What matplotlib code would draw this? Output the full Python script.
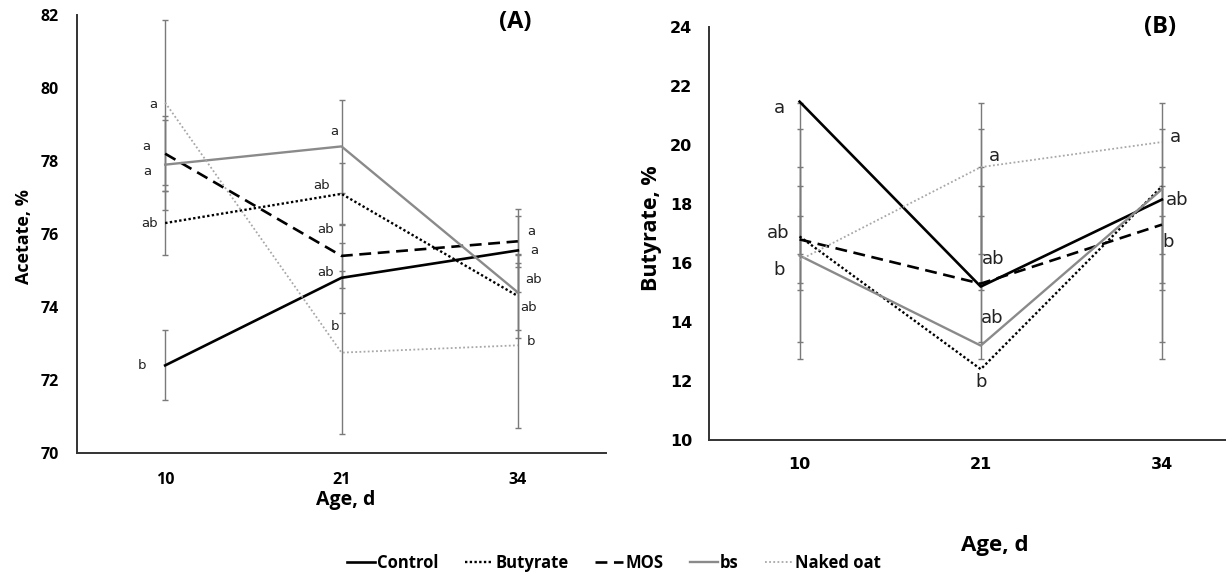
import numpy as np
import matplotlib.pyplot as plt
from matplotlib.lines import Line2D

MAIN = ['Open Sans', 'DejaVu Sans']
NARROW = ['Liberation Sans Narrow', 'DejaVu Sans']
plt.rcParams['font.family'] = MAIN

W, H = 1226, 578

days = ['10', '21', '34']
series = ['Control', 'Butyrate', 'MOS', 'bs', 'Naked oat']

# (A) acetate, %
acetate_control = [72.4, 74.8, 75.55]
acetate_butyrate = [76.3, 77.1, 74.3]
acetate_mos = [78.2, 75.4, 75.8]
acetate_bs = [77.9, 78.4, 74.4]
acetate_oat = [79.6, 72.75, 72.95]

acetate_err_control = [0.96, 0.96, 1.14]
acetate_err_butyrate = [0.87, 0.85, 1.15]
acetate_err_mos = [1.02, 0.87, 0.70]
acetate_err_bs = [1.23, 1.27, 1.03]
acetate_err_oat = [2.25, 2.24, 2.26]

acetate_let_control = ['b', 'ab', 'a']
acetate_let_butyrate = ['ab', 'ab', 'ab']
acetate_let_mos = ['a', 'ab', 'a']
acetate_let_bs = ['a', 'a', 'ab']
acetate_let_oat = ['a', 'b', 'b']

# (B) butyrate, %
butyrate_control = [21.47, 15.2, 18.15]
butyrate_butyrate = [16.9, 12.4, 18.6]
butyrate_mos = [16.8, 15.3, 17.3]
butyrate_bs = [16.25, 13.2, 18.5]
butyrate_oat = [16.1, 19.25, 20.1]

# error bars in (B) are the same at every age
butyrate_err_mid = [17.08, 16.93, 17.16, 16.97, 16.94]
butyrate_err_half = [4.34, 3.60, 2.08, 1.64, 0.65]

butyrate_let_control = ['a', 'ab', 'ab']
butyrate_let_butyrate = ['', 'b', '']
butyrate_let_mos = ['ab', '', 'b']
butyrate_let_bs = ['b', 'ab', '']
butyrate_let_oat = ['', 'a', 'a']

styles = {
    'Control': dict(color='black', lw=1.9, ls='-'),
    'Butyrate': dict(color='black', lw=1.7, ls=(0, (1, 1))),
    'MOS': dict(color='black', lw=1.9, ls=(0, (4.5, 2.5))),
    'bs': dict(color='#8a8a8a', lw=1.7, ls='-'),
    'Naked oat': dict(color='#a8a8a8', lw=1.3, ls=(0, (1, 1.3))),
}

# letter offsets in pixels (dx, dy up) per series, per age
off_a = {
    'Control': [(-23, 0), (-16, 5), (16, 0)],
    'Butyrate': [(-16, 0), (-20, 8), (11, -11)],
    'MOS': [(-19, 7), (-16, 26), (13, 10)],
    'bs': [(-18, -7), (-7, 15), (16, 13)],
    'Naked oat': [(-12, -2), (-7, 26), (13, 4)],
}
off_b = {
    'Control': [(-20, -6), (12, 28), (15, 0)],
    'Butyrate': [(0, 0), (0, -13), (0, 0)],
    'MOS': [(-21, 6), (0, 0), (6, -17)],
    'bs': [(-20, -14), (11, 28), (0, 0)],
    'Naked oat': [(0, 0), (14, 11), (13, 5)],
}

fig = plt.figure(figsize=(W / 100, H / 100), dpi=100)
axA = fig.add_axes([77 / W, 1 - 453 / H, (606 - 77) / W, (453 - 15) / H])
axB = fig.add_axes([709 / W, 1 - 440 / H, (1226 - 709) / W, (440 - 27) / H])

x = np.arange(len(days))
err_col = '#7a7a7a'


def style_axis(ax, yticks, tick_font, tick_size, ypad, xpad):
    for s in ['top', 'right']:
        ax.spines[s].set_visible(False)
    for s in ['left', 'bottom']:
        ax.spines[s].set_color('#333333')
        ax.spines[s].set_linewidth(1.4)
    ax.set_yticks(yticks)
    ax.set_xticks(x, days)
    ax.tick_params(axis='y', length=0, pad=ypad)
    ax.tick_params(axis='x', length=0, pad=xpad)
    for lab in ax.get_xticklabels() + ax.get_yticklabels():
        lab.set_family(tick_font)
        lab.set_fontweight('bold')
        lab.set_fontsize(tick_size)


# panel A
vals_a = [acetate_control, acetate_butyrate, acetate_mos, acetate_bs, acetate_oat]
errs_a = [acetate_err_control, acetate_err_butyrate, acetate_err_mos, acetate_err_bs, acetate_err_oat]
lets_a = [acetate_let_control, acetate_let_butyrate, acetate_let_mos, acetate_let_bs, acetate_let_oat]
for name, v, e in zip(series, vals_a, errs_a):
    axA.errorbar(x, v, yerr=e, fmt='none', ecolor=err_col, elinewidth=1.0,
                 capsize=2.5, capthick=1.0, zorder=1)
for name, v in zip(series, vals_a):
    axA.plot(x, v, zorder=2, **styles[name])
for name, v, lets in zip(series, vals_a, lets_a):
    for i, t in enumerate(lets):
        if t:
            axA.annotate(t, (x[i], v[i]), xytext=off_a[name][i], textcoords='offset pixels',
                         ha='center', va='center', fontsize=9.5, color='#222222',
                         family=NARROW)
axA.set_xlim(-0.5, 2.5)
axA.set_ylim(70, 82)
style_axis(axA, np.arange(70, 83, 2), MAIN, 11.5, 13, 14)

# panel B
vals_b = [butyrate_control, butyrate_butyrate, butyrate_mos, butyrate_bs, butyrate_oat]
lets_b = [butyrate_let_control, butyrate_let_butyrate, butyrate_let_mos, butyrate_let_bs, butyrate_let_oat]
for mid, half in zip(butyrate_err_mid, butyrate_err_half):
    axB.errorbar(x, [mid] * len(x), yerr=half, fmt='none', ecolor=err_col, elinewidth=1.0,
                 capsize=2.5, capthick=1.0, zorder=1)
for name, v in zip(series, vals_b):
    axB.plot(x, v, zorder=2, **styles[name])
for name, v, lets in zip(series, vals_b, lets_b):
    for i, t in enumerate(lets):
        if t:
            axB.annotate(t, (x[i], v[i]), xytext=off_b[name][i], textcoords='offset pixels',
                         ha='center', va='center', fontsize=13, color='#222222',
                         family=NARROW)
axB.set_xlim(-0.5, 2 + (1226 - 1162) / 181)
axB.set_ylim(10, 24)
style_axis(axB, np.arange(10, 25, 2), NARROW, 11.5, 12, 12)


def px(xp, yp):
    return xp / W, 1 - yp / H


fig.text(*px(515, 22), '(A)', ha='center', va='center', fontsize=17, fontweight='bold')
fig.text(*px(1160, 27), '(B)', ha='center', va='center', fontsize=17, fontweight='bold')
fig.text(*px(24, 237), 'Acetate, %', rotation=90, ha='center', va='center',
         fontsize=13, fontweight='bold')
fig.text(*px(652, 228), 'Butyrate, %', rotation=90, ha='center', va='center',
         fontsize=15.5, fontweight='bold')
fig.text(*px(346, 500), 'Age, d', ha='center', va='center', fontsize=14, fontweight='bold')
fig.text(*px(995, 545), 'Age, d', ha='center', va='center', fontsize=16, fontweight='bold')

handles = [Line2D([], [], **styles[n]) for n in series]
leg = fig.legend(handles, series, loc='center', bbox_to_anchor=px(614, 563), ncol=5,
                 frameon=False, handlelength=1.7, handletextpad=0.1, columnspacing=1.6,
                 prop=dict(family=MAIN, weight='bold', size=12))

fig.savefig('out.png', dpi=100)
